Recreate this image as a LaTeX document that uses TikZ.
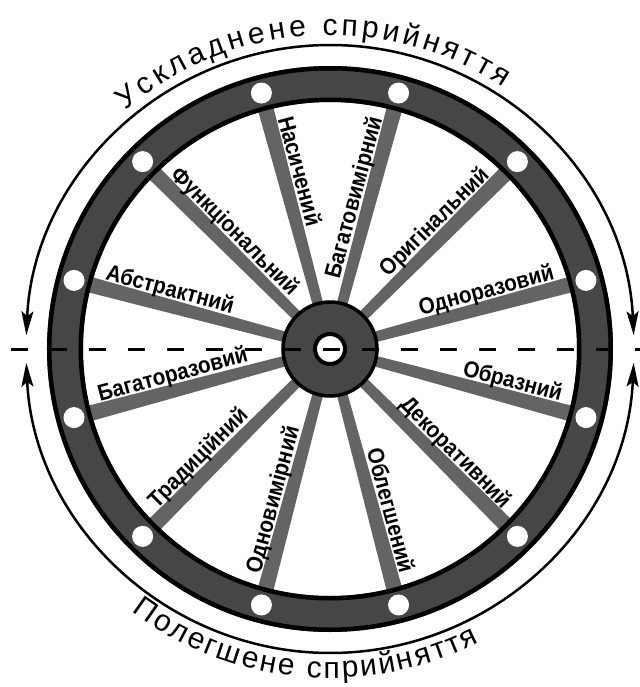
\documentclass[tikz,border=0pt]{standalone}
\usepackage{fontspec}
\setmainfont{Liberation Sans}
\newfontfamily\spokefont[FakeStretch=0.9]{Liberation Sans}
\usepackage{tikz}
\definecolor{wheeldark}{RGB}{72,69,69}
\definecolor{spokegray}{RGB}{100,100,100}
\usetikzlibrary{arrows.meta, calc, decorations.text}
\tikzset{
    spokelabel/.style={font=\spokefont\bfseries\fontsize{11.5}{13}\selectfont, inner sep=0pt},
    rimline/.style={draw=black, line width=2.25pt},
    senscurve/.style={<->, line width=1.25pt},
    arctext/.style={decorate, decoration={text along path, text align={fit to path}}}
}
\newcommand{\arcfont}{\fontsize{15}{17}\selectfont}

\begin{document}
\begin{tikzpicture}[x=0.5pt, y=0.5pt, >={Stealth[length=12pt, width=6pt, inset=2.5pt]}]
  \useasboundingbox (-330,-338) rectangle (310,349);
  % spokes under the rim
  \foreach \a in {15,45,...,345}
    \fill[spokegray] ($(\a:40)+(\a+90:5.2)$) -- ($(\a:262)+(\a+90:8)$)
      -- ($(\a:262)+(\a-90:8)$) -- ($(\a:40)+(\a-90:5.2)$) -- cycle;
  % rim with holes
  \fill[wheeldark, even odd rule] (0,0) circle[radius=283] circle[radius=247];
  \draw[rimline] (0,0) circle[radius=280.75];
  \draw[rimline] (0,0) circle[radius=249.25];
  \foreach \a in {15,45,...,345}
    \fill[white] (\a:265) circle[radius=10.5];
  % hub
  \node[circle, fill=wheeldark, draw, line width=1.75pt, minimum size=47pt, inner sep=0pt] (hub) at (0,0) {};
  \node[circle, fill=white, draw, line width=2pt, minimum size=15pt, inner sep=0pt] (axle) at (hub.center) {};
  % horizontal axis
  \coordinate (axisL) at (-319,0);
  \coordinate (axisR) at (310,0);
  \draw[line width=1.5pt, dash pattern=on 8.5pt off 11pt] (axisL) -- (axisR);
  % perception arcs
  \draw[senscurve] (2.6:304) arc[start angle=2.6, end angle=177.4, radius=304];
  \draw[senscurve] (-2.6:304) arc[start angle=-2.6, end angle=-177.4, radius=304];
  \path[arctext, decoration={text={|\arcfont|Ускладнене сприйняття}}]
    (130.5:314) arc[start angle=130.5, end angle=56.5, radius=314];
  \path[arctext, decoration={text={|\arcfont|Полегшене сприйняття}}]
    (-127:329) arc[start angle=-127, end angle=-63, radius=329];
  % spoke labels
  \node[spokelabel, rotate=-75, anchor=base west] (nasych) at ($(105:236)+(15:9)$) {Насичений};
  \node[spokelabel, rotate=75, anchor=base east] (bagatovym) at ($(75:236)+(165:9)$) {Багатовимірний};
  \node[spokelabel, rotate=45, anchor=base east] (oryg) at ($(45:236)+(135:9)$) {Оригінальний};
  \node[spokelabel, rotate=15, anchor=base east] (odnoraz) at ($(15:236)+(105:9)$) {Одноразовий};
  \node[spokelabel, rotate=-15, anchor=base east] (obraz) at ($(-15:236)+(75:9)$) {Образний};
  \node[spokelabel, rotate=-45, anchor=base east] (dekor) at ($(-45:236)+(45:9)$) {Декоративний};
  \node[spokelabel, rotate=-75, anchor=base east] (oblegsh) at ($(-75:236)+(15:9)$) {Облегшений};
  \node[spokelabel, rotate=75, anchor=base west] (odnovym) at ($(-105:236)+(165:9)$) {Одновимірний};
  \node[spokelabel, rotate=45, anchor=base west] (tradyc) at ($(-135:236)+(135:9)$) {Традиційний};
  \node[spokelabel, rotate=15, anchor=base west] (bagatoraz) at ($(-165:236)+(105:9)$) {Багаторазовий};
  \node[spokelabel, rotate=-15, anchor=base west] (abstr) at ($(165:236)+(75:9)$) {Абстрактний};
  \node[spokelabel, rotate=-45, anchor=base west] (funkc) at ($(135:236)+(45:9)$) {Функціональний};
\end{tikzpicture}
\end{document}
